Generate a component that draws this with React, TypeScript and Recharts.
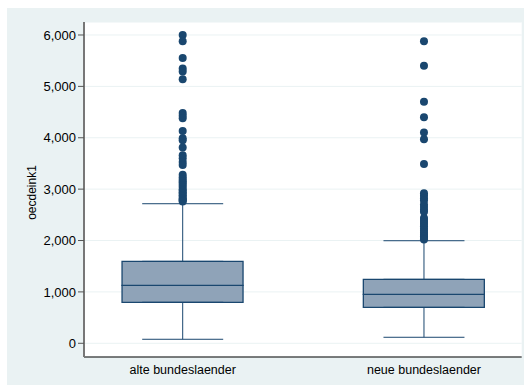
import React from 'react';
import { ComposedChart, Bar, Scatter, XAxis, YAxis, CartesianGrid, ErrorBar } from 'recharts';

const categories = ['alte bundeslaender', 'neue bundeslaender'];
const categoryPositions = [1, 2];
const lowerWhisker = [78, 117];
const q1 = [798, 700];
const median = [1128, 953];
const q3 = [1595, 1245];
const upperWhisker = [2716, 1996];

const outliersAlte = [
  6000, 5880, 5550, 5350, 5290, 5140, 4480, 4430, 4380, 4130, 3990, 3950, 3810, 3660,
  3600, 3530, 3470, 3280, 3230, 3190, 3150, 3120, 3080, 3040, 3000, 2970, 2940, 2910,
  2880, 2850, 2820, 2800, 2780, 2760,
];
const outliersNeue = [
  5880, 5400, 4700, 4400, 4100, 3970, 3490, 2920, 2870, 2820, 2780, 2700, 2650, 2600,
  2560, 2440, 2400, 2360, 2320, 2280, 2230, 2190, 2150, 2110, 2080, 2050, 2020,
];

const yTicks = [0, 1000, 2000, 3000, 4000, 5000, 6000];

const NAVY = '#1a476f';
const BOX_FILL = '#8fa3b8';
const FONT = '"Liberation Sans", Arial, sans-serif';

const boxData = categories.map((c, i) => ({
  x: categoryPositions[i],
  base: q1[i],
  lower: median[i] - q1[i],
  upper: q3[i] - median[i],
}));

const upperWhiskerData = categories.map((c, i) => ({
  x: categoryPositions[i],
  y: q3[i],
  err: [0, upperWhisker[i] - q3[i]],
}));

const lowerWhiskerData = categories.map((c, i) => ({
  x: categoryPositions[i],
  y: q1[i],
  err: [q1[i] - lowerWhisker[i], 0],
}));

const outlierData = [
  ...outliersAlte.map((v) => ({ x: categoryPositions[0], y: v })),
  ...outliersNeue.map((v) => ({ x: categoryPositions[1], y: v })),
];

const Dot = (props: any) => <circle cx={props.cx} cy={props.cy} r={4} fill={NAVY} />;
const Hidden = () => <g />;

export default function App() {
  return (
    <div
      style={{
        position: 'absolute',
        left: 7,
        top: 8,
        width: 517,
        height: 377,
        background: '#eaf2f3',
      }}
    >
      <ComposedChart
        width={517}
        height={377}
        data={boxData}
        margin={{ top: 14, right: 2.3, bottom: 0, left: 0 }}
      >
        <CartesianGrid fill="#ffffff" stroke="#eaf2f3" vertical={false} />
        <XAxis
          type="number"
          dataKey="x"
          domain={[0.591, 2.405]}
          allowDataOverflow
          ticks={categoryPositions}
          interval={0}
          tickFormatter={(v: number) => categories[categoryPositions.indexOf(v)]}
          tickLine={false}
          tickSize={6}
          tickMargin={2.5}
          height={28}
          axisLine={{ stroke: '#000', strokeWidth: 1 }}
          tick={{ fill: '#000', fontSize: 12.5, fontFamily: FONT }}
        />
        <YAxis
          type="number"
          dataKey="y"
          domain={[-267, 6253]}
          allowDataOverflow
          ticks={yTicks}
          interval={0}
          tickFormatter={(v: number) => v.toLocaleString('en-US')}
          width={77}
          tickSize={6}
          tickMargin={2}
          axisLine={{ stroke: '#777', strokeWidth: 2 }}
          tickLine={{ stroke: '#555', strokeWidth: 1 }}
          tick={{ fill: '#000', fontSize: 13, fontFamily: FONT }}
          label={{
            value: 'oecdeink1',
            angle: -90,
            position: 'center',
            dx: -14,
            dy: 3,
            fill: '#000',
            fontSize: 12,
            fontFamily: FONT,
          }}
        />
        <Bar dataKey="base" stackId="box" fill="none" stroke="none" barSize={121} isAnimationActive={false} />
        <Bar dataKey="lower" stackId="box" fill={BOX_FILL} stroke={NAVY} strokeWidth={1.3} barSize={121} isAnimationActive={false} />
        <Bar dataKey="upper" stackId="box" fill={BOX_FILL} stroke={NAVY} strokeWidth={1.3} barSize={121} isAnimationActive={false} />
        <Scatter data={upperWhiskerData} dataKey="y" shape={Hidden} isAnimationActive={false}>
          <ErrorBar dataKey="err" direction="y" width={40.5} stroke={NAVY} strokeWidth={1} />
        </Scatter>
        <Scatter data={lowerWhiskerData} dataKey="y" shape={Hidden} isAnimationActive={false}>
          <ErrorBar dataKey="err" direction="y" width={40.5} stroke={NAVY} strokeWidth={1} />
        </Scatter>
        <Scatter data={outlierData} dataKey="y" shape={Dot} isAnimationActive={false} />
      </ComposedChart>
    </div>
  );
}
